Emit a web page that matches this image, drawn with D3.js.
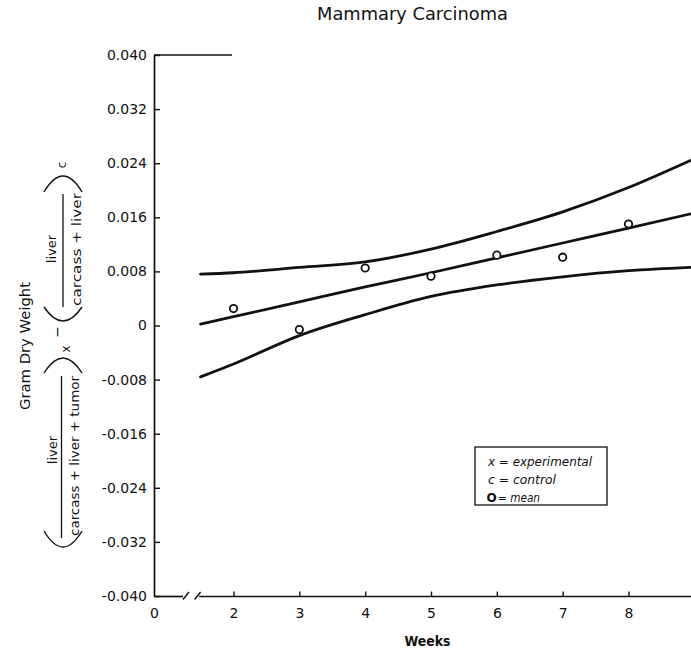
<!DOCTYPE html>
<html>
<head>
<meta charset="utf-8">
<script src="https://cdn.jsdelivr.net/npm/d3@7/dist/d3.min.js"></script>
<style>
  html, body { margin: 0; padding: 0; background: #fff; }
  svg { display: block; }
  text { font-family: "DejaVu Sans", sans-serif; fill: #111; }
</style>
</head>
<body>
<svg id="chart" width="691" height="650"></svg>
<script>
// Weekly means of the liver-weight ratio difference (experimental minus control)
const weeks = [2, 3, 4, 5, 6, 7, 8];
const meanValues = [0.0025, -0.0006, 0.0085, 0.0073, 0.0104, 0.0101, 0.0150];

// Fitted line and its upper / lower confidence curves
const curveWeeks  = [1.5, 2, 3, 4, 5, 6, 7, 8, 8.94];
const fitValues   = [0.0002, 0.0013, 0.0035, 0.0057, 0.0078, 0.0100, 0.0122, 0.0144, 0.0165];
const upperValues = [0.0076, 0.0078, 0.0086, 0.0094, 0.0113, 0.0139, 0.0168, 0.0204, 0.0244];
const lowerValues = [-0.0076, -0.0057, -0.0015, 0.0016, 0.0043, 0.0060, 0.0072, 0.0081, 0.0086];

// Axis ticks
const xTickValues = [0, 2, 3, 4, 5, 6, 7, 8];
const xTickLabels = ["0", "2", "3", "4", "5", "6", "7", "8"];
const yTickValues = [0.040, 0.032, 0.024, 0.016, 0.008, 0, -0.008, -0.016, -0.024, -0.032, -0.040];
const yTickLabels = ["0.040", "0.032", "0.024", "0.016", "0.008", "0", "-0.008", "-0.016", "-0.024", "-0.032", "-0.040"];

const legendLines = ["x = experimental", "c = control", "= mean"];

const svg = d3.select("#chart");
const ink = "#111";

// Broken time axis: weeks 0..1.5 squeezed, uniform from 1.5 on
const x = d3.scaleLinear().domain([0, 1.5, 8]).range([154, 200.6, 628.5]);
const y = d3.scaleLinear().domain([-0.040, 0.040]).range([596, 55]);

// Title
svg.append("text")
  .attr("x", 412.5).attr("y", 20)
  .attr("text-anchor", "middle")
  .attr("font-size", 17)
  .attr("textLength", 191).attr("lengthAdjust", "spacingAndGlyphs")
  .text("Mammary Carcinoma");

// Y axis
const yAxis = d3.axisLeft(y)
  .tickValues(yTickValues)
  .tickFormat((d, i) => yTickLabels[i])
  .tickSizeInner(-6).tickSizeOuter(0).tickPadding(7);
const gy = svg.append("g").attr("transform", "translate(154,0)").call(yAxis);
gy.select(".domain").attr("stroke", ink).attr("stroke-width", 1.7);
gy.selectAll(".tick line").attr("stroke", ink).attr("stroke-width", 1.4);
gy.selectAll(".tick text").attr("font-size", 14).attr("fill", ink)
  .style("font-family", "'DejaVu Sans', sans-serif");

// Short top rule at the head of the y axis
svg.append("line")
  .attr("x1", 154).attr("x2", 232).attr("y1", y(0.040)).attr("y2", y(0.040))
  .attr("stroke", ink).attr("stroke-width", 1.5);

// X axis (ticks and labels), domain drawn separately with a break
const xAxis = d3.axisBottom(x)
  .tickValues(xTickValues)
  .tickFormat((d, i) => xTickLabels[i])
  .tickSizeInner(-5).tickSizeOuter(0).tickPadding(11.5);
const gx = svg.append("g").attr("transform", "translate(0,596.5)").call(xAxis);
gx.select(".domain").remove();
gx.selectAll(".tick line").attr("stroke", ink).attr("stroke-width", 1.4)
  .attr("opacity", d => d === 0 ? 0 : 1);
gx.selectAll(".tick text").attr("font-size", 14).attr("fill", ink)
  .style("font-family", "'DejaVu Sans', sans-serif");

const axisY = 596.5;
const breakL = x(0) + 29, breakR = x(1.5);
svg.append("line").attr("x1", x(0)).attr("x2", breakL).attr("y1", axisY).attr("y2", axisY)
  .attr("stroke", ink).attr("stroke-width", 1.7);
svg.append("line").attr("x1", breakR - 1.5).attr("x2", 691).attr("y1", axisY).attr("y2", axisY)
  .attr("stroke", ink).attr("stroke-width", 1.7);
[breakL, breakR - 6].forEach(bx => {
  svg.append("line")
    .attr("x1", bx).attr("y1", axisY + 3)
    .attr("x2", bx + 6).attr("y2", axisY - 4.5)
    .attr("stroke", ink).attr("stroke-width", 1.4);
});

// X axis title
svg.append("text")
  .attr("x", 427.5).attr("y", 646)
  .attr("text-anchor", "middle")
  .attr("font-size", 13.5).attr("font-weight", "bold")
  .attr("textLength", 46).attr("lengthAdjust", "spacingAndGlyphs")
  .text("Weeks");

// Y axis title with the ratio formula, written sideways
function sideText(px, py, str, opts) {
  const t = svg.append("text")
    .attr("transform", `translate(${px},${py}) rotate(-90)`)
    .attr("text-anchor", opts.anchor || "middle")
    .attr("font-size", opts.size || 13)
    .text(str);
  if (opts.len) t.attr("textLength", opts.len).attr("lengthAdjust", "spacingAndGlyphs");
  if (opts.italic) t.attr("font-style", "italic");
  return t;
}
function vBar(px, y1, y2) {
  svg.append("line").attr("x1", px).attr("x2", px).attr("y1", y1).attr("y2", y2)
    .attr("stroke", ink).attr("stroke-width", 1.3);
}
// a sideways bracket; yEnd is where both tips sit, yBulge the middle of the curve
function sideParen(x1, x2, yEnd, yBulge) {
  const xm = (x1 + x2) / 2;
  const yc = 2 * yBulge - yEnd;
  svg.append("path")
    .attr("d", `M${x1},${yEnd} Q${xm},${yc} ${x2},${yEnd}`)
    .attr("fill", "none").attr("stroke", ink).attr("stroke-width", 1.4);
}

sideText(30, 346, "Gram Dry Weight", { size: 14, len: 128 });

// (liver / (carcass + liver + tumor))x
sideParen(44, 82, 531, 547);
sideText(57, 450, "liver", { size: 13 });
vBar(61.5, 376, 538);
sideText(79, 456, "carcass + liver + tumor", { size: 13, len: 160 });
sideParen(44, 82, 373, 358);
sideText(70, 349, "x", { size: 12 });

// minus
sideText(61.5, 332, "\u2212", { size: 14 });

// (liver / (carcass + liver))c
sideParen(44, 82, 307, 321);
sideText(55.5, 249, "liver", { size: 13 });
vBar(63, 194, 307);
sideText(81, 249.5, "carcass + liver", { size: 13, len: 113 });
sideParen(44, 82, 192, 176);
sideText(66, 165, "c", { size: 12 });

// Curves
const lineGen = vals => d3.line()
  .x((d, i) => x(curveWeeks[i]))
  .y(d => y(d))
  .curve(d3.curveMonotoneX)(vals);

[upperValues, fitValues, lowerValues].forEach(vals => {
  svg.append("path")
    .attr("d", lineGen(vals))
    .attr("fill", "none")
    .attr("stroke", ink)
    .attr("stroke-width", 2.8)
    .attr("stroke-linecap", "round");
});

// Weekly means
svg.append("g").selectAll("circle")
  .data(weeks)
  .join("circle")
  .attr("cx", d => x(d))
  .attr("cy", (d, i) => y(meanValues[i]))
  .attr("r", 3.7)
  .attr("fill", "#fff")
  .attr("stroke", ink)
  .attr("stroke-width", 1.8);

// Legend
const lg = svg.append("g");
lg.append("rect")
  .attr("x", 475).attr("y", 447).attr("width", 132).attr("height", 58)
  .attr("fill", "#fff").attr("stroke", ink).attr("stroke-width", 1.3);
lg.append("text").attr("x", 488).attr("y", 466)
  .attr("font-size", 12).attr("font-style", "italic")
  .attr("textLength", 104).attr("lengthAdjust", "spacingAndGlyphs")
  .text(legendLines[0]);
lg.append("text").attr("x", 488).attr("y", 484)
  .attr("font-size", 12).attr("font-style", "italic")
  .attr("textLength", 68).attr("lengthAdjust", "spacingAndGlyphs")
  .text(legendLines[1]);
lg.append("text").attr("x", 486.5).attr("y", 501.5)
  .attr("font-size", 12).attr("font-weight", "bold")
  .text("O");
lg.append("text").attr("x", 498).attr("y", 501.5)
  .attr("font-size", 12).attr("font-style", "italic")
  .attr("textLength", 42).attr("lengthAdjust", "spacingAndGlyphs")
  .text(legendLines[2]);
</script>
</body>
</html>
